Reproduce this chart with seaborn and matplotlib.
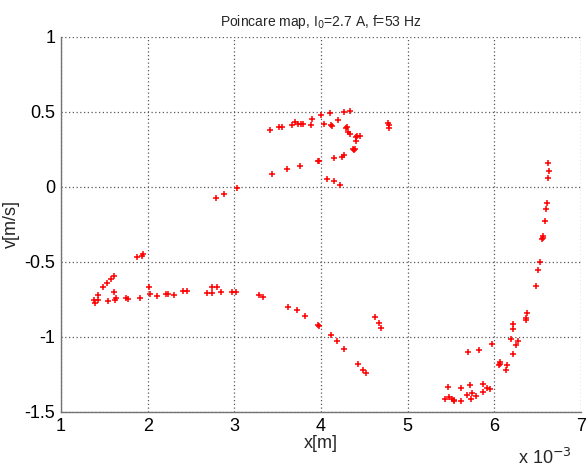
import matplotlib
matplotlib.use("Agg")
import matplotlib.pyplot as plt
import seaborn as sns
import pandas as pd

# x in units of 1e-3 m, v in m/s
x_vals = [
    1.38, 1.39, 1.425, 1.425, 1.49, 1.53, 1.58, 1.61, 1.54, 1.61, 1.63, 1.62, 1.75, 1.77, 1.91,
    1.88, 1.93, 1.95,
    2.02, 2.03, 2.11, 2.21, 2.23, 2.30, 2.41, 2.45, 2.69, 2.74, 2.74, 2.80, 2.85, 2.97, 3.02, 3.28, 3.33,
    3.62, 3.72, 3.82, 3.97, 3.98,
    4.11, 4.19, 4.27, 4.43, 4.48, 4.52, 4.62, 4.67, 4.69,
    2.79, 2.88, 3.03,
    3.41, 3.43, 3.52, 3.55, 3.61, 3.67, 3.70, 3.74, 3.77, 3.79, 3.76, 3.89, 3.90, 3.97, 3.98,
    4.00, 4.03, 4.07, 4.10, 4.11, 4.13, 4.15, 4.15, 4.20, 4.225, 4.24, 4.27, 4.34, 4.27,
    4.29, 4.30, 4.31, 4.34, 4.37, 4.38, 4.39, 4.40, 4.40, 4.42, 4.45, 4.775, 4.78, 4.79,
    6.617, 6.625, 6.62, 6.61, 6.60, 6.586, 6.56, 6.56, 6.555, 6.53, 6.50, 6.475, 6.38, 6.37, 6.37,
    6.21, 6.22, 6.19, 6.27, 6.25, 6.21, 6.15, 6.07, 6.06, 6.05, 6.13, 5.97, 5.82, 5.70,
    5.47, 5.62, 5.72, 5.87, 5.92, 5.95, 5.87, 5.74, 5.68, 5.79, 5.73,
    5.43, 5.48, 5.51, 5.53, 5.54, 5.61,
]
v_vals = [
    -0.755, -0.775, -0.72, -0.755, -0.665, -0.64, -0.615, -0.595, -0.76, -0.70, -0.74, -0.755, -0.74, -0.745, -0.74,
    -0.467, -0.458, -0.449,
    -0.67, -0.715, -0.725, -0.715, -0.715, -0.72, -0.695, -0.695, -0.71, -0.71, -0.67, -0.67, -0.70, -0.70, -0.70, -0.72, -0.735,
    -0.80, -0.82, -0.86, -0.92, -0.93,
    -0.99, -1.03, -1.08, -1.18, -1.22, -1.24, -0.87, -0.91, -0.94,
    -0.073, -0.047, -0.007,
    0.379, 0.086, 0.40, 0.40, 0.123, 0.41, 0.434, 0.42, 0.42, 0.42, 0.143, 0.416, 0.45, 0.17, 0.176,
    0.478, 0.42, 0.05, 0.49, 0.414, 0.405, 0.194, 0.04, 0.445, 0.011, 0.20, 0.502, 0.507, 0.21,
    0.396, 0.40, 0.366, 0.35, 0.25, 0.245, 0.255, 0.306, 0.335, 0.34, 0.34, 0.427, 0.41, 0.39,
    0.159, 0.104, 0.062, -0.104, -0.148, -0.225, -0.33, -0.34, -0.35, -0.50, -0.555, -0.66, -0.84, -0.875, -0.89,
    -0.914, -0.945, -1.016, -1.027, -1.053, -1.11, -1.185, -1.167, -1.18, -1.19, -1.22, -1.044, -1.089, -1.10,
    -1.336, -1.34, -1.32, -1.316, -1.342, -1.35, -1.367, -1.371, -1.39, -1.393, -1.413,
    -1.411, -1.40, -1.411, -1.422, -1.43, -1.424,
]

x_ticks = [1, 2, 3, 4, 5, 6, 7]
v_ticks = [-1.5, -1, -0.5, 0, 0.5, 1]
x_ticklabels = ["1", "2", "3", "4", "5", "6", "7"]
v_ticklabels = ["-1.5", "-1", "-0.5", "0", "0.5", "1"]

sns.set_style("white")
plt.rcParams["font.family"] = ["Liberation Sans", "DejaVu Sans"]

df = pd.DataFrame({"x": x_vals, "v": v_vals})

fig = plt.figure(figsize=(5.87, 4.68), dpi=100)
ax = fig.add_axes([61 / 587, 1 - 412 / 468, (581 - 61) / 587, (412 - 37) / 468])

sns.scatterplot(data=df, x="x", y="v", ax=ax, marker="+", color="red",
                s=20, linewidth=1.1, legend=False, zorder=3)

ax.set_xlim(1, 7)
ax.set_ylim(-1.5, 1)
ax.set_xticks(x_ticks)
ax.set_xticklabels(x_ticklabels)
ax.set_yticks(v_ticks)
ax.set_yticklabels(v_ticklabels)
ax.grid(True, linestyle=(0, (1, 2)), color="0.35", linewidth=0.9)
for side in ["top", "right"]:
    ax.spines[side].set_visible(False)
for side in ["left", "bottom"]:
    ax.spines[side].set_color("0.45")
    ax.spines[side].set_linewidth(1.0)
ax.tick_params(axis="both", direction="in", length=4, color="0.45",
               labelsize=13, pad=4, labelcolor="black")

ax.set_xlabel("x[m]", fontsize=13, labelpad=0)
ax.set_ylabel("v[m/s]", fontsize=13, labelpad=3)
ax.set_title("Poincare map, I$_0$=2.7 A, f=53 Hz", fontsize=10, pad=8)
fig.text(545 / 587, 1 - 458 / 468, r"x 10$^{-3}$", fontsize=13, ha="center", va="center")

fig.savefig("out.png", dpi=100)
